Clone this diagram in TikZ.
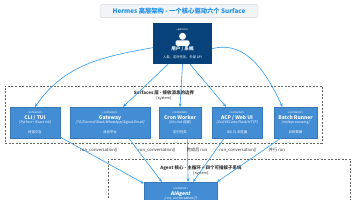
\documentclass[tikz,border=0pt]{standalone}
\usepackage{fontspec}
\setmainfont{Noto Sans CJK SC}
\newfontfamily\slantfont[FakeSlant=0.2]{Noto Sans CJK SC}
\usetikzlibrary{arrows.meta,positioning,calc}
\definecolor{personnavy}{HTML}{08427B}
\definecolor{containerblue}{HTML}{438DD5}
\definecolor{flowblue}{HTML}{2F9BEF}
\definecolor{titleblue}{HTML}{1E8FE8}
\definecolor{titlegray}{HTML}{F2F4F7}

\begin{document}
\begin{tikzpicture}[x=1pt,y=-1pt,
  heading/.style={draw=gray!35,fill=titlegray,rounded corners=1.5pt,minimum width=158pt,
    minimum height=12pt,text=titleblue,font=\fontsize{6.3}{7}\selectfont\bfseries},
  person/.style={fill=personnavy,minimum width=59pt,minimum height=41pt,inner sep=0pt},
  container/.style={fill=containerblue,draw=containerblue!85!black,line width=.3pt,
    minimum height=31pt,inner sep=0pt,align=center,text=white,font=\fontsize{3.4}{4.5}\selectfont},
  boundary/.style={draw=gray!80!black,dash pattern=on 2pt off 1.5pt,line width=.5pt,inner sep=0pt},
  blabel/.style={font=\fontsize{4.5}{5.2}\selectfont,text=black!80,align=center,inner sep=0pt},
  flow/.style={-{Stealth[length=3.5pt,width=3pt]},draw=flowblue,line width=.6pt},
  elabel/.style={font=\fontsize{4.2}{5}\selectfont,text=black!80,inner sep=0pt}
]
\useasboundingbox (0,0) rectangle (356,200);
\clip (0,0) rectangle (356,200);
\fill[white] (0,0) rectangle (356,200);

% title
\node[heading] (title) at (179,11) {Hermes 高层架构 - 一个核心驱动六个 Surface};

% boundaries
\node[boundary,minimum width=317pt,minimum height=57pt] (surfaces) at (163.5,114.5) {};
\node[blabel] (surfaces-lbl) at (164,95.5) {\textbf{Surfaces 层 - 接收消息的边界}\\{\fontsize{3.8}{4.5}\selectfont [system]}};
\node[boundary,minimum width=242pt,minimum height=56pt] (core) at (229,187) {};
\node[blabel] (core-lbl) at (201,170.5) {\textbf{Agent 核心 - 主循环 + 四个可插拔子系统}\\{\fontsize{3.8}{4.5}\selectfont [system]}};

% user
\node[person] (user) at (182.5,43.5) {};
\node[text=white,font=\fontsize{2.8}{3}\selectfont,inner sep=0pt] (user-st) at ($(user.north)+(0,7)$) {«person»};
\fill[white] ($(user.north)+(0,13.5)$) circle (3.5pt);
\fill[white,rounded corners=2pt] ($(user.north)+(-7,17.5)$) rectangle ($(user.north)+(7,23)$);
\node[text=white,font=\fontsize{4.6}{5}\selectfont\bfseries,inner sep=0pt] (user-name) at ($(user.north)+(0,26.5)$) {用户 / 系统};
\node[text=white,font=\fontsize{3.3}{4}\selectfont,inner sep=0pt] (user-desc) at ($(user.north)+(0,34.5)$) {人类、定时任务、外部 API};

% surfaces
\node[container,minimum width=50pt] (cli) at (35,122.5) {{\fontsize{2.8}{3}\selectfont «container»}\\[1pt]
  {\fontsize{5}{6}\selectfont\bfseries CLI / TUI}\\{\slantfont [Python + React Ink]}\\[5pt]终端交互};
\node[container,minimum width=80pt] (gw) at (110,122.5) {{\fontsize{2.8}{3}\selectfont «container»}\\[1pt]
  {\fontsize{5}{6}\selectfont\bfseries Gateway}\\{\slantfont [TG/Discord/Slack/WhatsApp/Signal/Email]}\\[5pt]消息平台};
\node[container,minimum width=42pt] (cron) at (180,122.5) {{\fontsize{2.8}{3}\selectfont «container»}\\[1pt]
  {\fontsize{5}{6}\selectfont\bfseries Cron Worker}\\{\slantfont [60s tick 调度]}\\[5pt]定时任务};
\node[container,minimum width=50pt] (acp) at (237,122.5) {{\fontsize{2.8}{3}\selectfont «container»}\\[1pt]
  {\fontsize{5}{6}\selectfont\bfseries ACP / Web UI}\\{\slantfont [Zed/VSCode/Flask/HTTP]}\\[5pt]IDE 与 浏览器};
\node[container,minimum width=43pt] (batch) at (295.5,122.5) {{\fontsize{2.8}{3}\selectfont «container»}\\[1pt]
  {\fontsize{5}{6}\selectfont\bfseries Batch Runner}\\{\slantfont [multiprocessing]}\\[5pt]训练数据};

% core
\node[container,minimum width=73pt,minimum height=24pt] (agent) at (180.5,194) {{\fontsize{2.8}{3}\selectfont «container»}\\[1pt]
  {\fontsize{5}{6}\slantfont\bfseries AIAgent}\\{\slantfont [run\_conversation()]}};

% user -> surfaces
\draw[flow] (user.188) to[out=190,in=55] (cli.north);
\draw[flow] (user.-125) -- (gw.50);
\draw[flow] (user.south) -- (cron.north);
\draw[flow] (user.-70) -- (acp.125);
\draw[flow] (user.-10) to[out=15,in=115] (batch.130);

% surfaces -> core
\draw[flow] (cli.-30) -- (agent.164);
\draw[flow] (gw.-40) -- (agent.147);
\draw[flow] (cron.-65) -- (agent.58);
\draw[flow] (acp.-129) -- (agent.44);
\draw[flow] (batch.-133) -- (agent.north east);

\node[elabel] (cli-run) at (99,150) {run\_conversation()};
\node[elabel] (gw-run) at (157,150) {run\_conversation()};
\node[elabel] (cron-run) at (197,150) {完成后 run};
\node[elabel] (acp-run) at (238,150) {run\_conversation()};
\node[elabel] (batch-run) at (277,150) {并行 run};
\end{tikzpicture}
\end{document}
